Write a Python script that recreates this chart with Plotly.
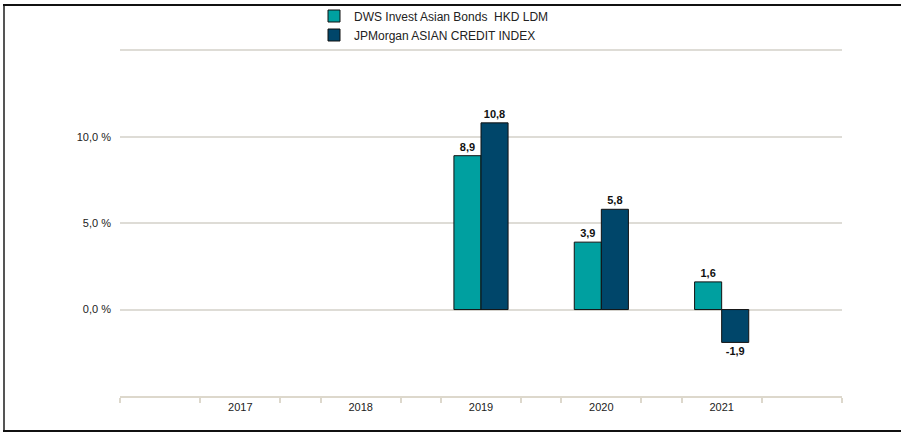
import plotly.graph_objects as go

years = [2017, 2018, 2019, 2020, 2021]
fund_name = "DWS Invest Asian Bonds  HKD LDM"
bench_name = "JPMorgan ASIAN CREDIT INDEX"
fund_vals = [None, None, 8.9, 3.9, 1.6]
bench_vals = [None, None, 10.8, 5.8, -1.9]
y_tickvals = [-5, 0, 5, 10, 15]
y_ticktext = ["", "0,0 %", "5,0 %", "10,0 %", ""]

def fmt(v):
    return "" if v is None else f"{v:.1f}".replace(".", ",")

W, H = 901, 433
L, R, T, B = 120, 59, 48, 37
pw, ph = W - L - R, H - T - B

label_font = dict(family="Liberation Sans, Arial", size=11, color="#111111", weight="bold")

fig = go.Figure()
fig.add_trace(go.Bar(
    x=years, y=fund_vals, name=fund_name,
    marker=dict(color="#00A0A0", line=dict(color="#111111", width=1)),
    text=[fmt(v) for v in fund_vals], textposition="outside",
    textfont=label_font, cliponaxis=False,
))
fig.add_trace(go.Bar(
    x=years, y=bench_vals, name=bench_name,
    marker=dict(color="#00466A", line=dict(color="#111111", width=1)),
    text=[fmt(v) for v in bench_vals], textposition="outside",
    textfont=label_font, cliponaxis=False,
))

minor_vals = [2016, 2022]
for yv in years:
    minor_vals += [yv - 1 / 3, yv + 1 / 3]

def px_x(p):
    return (p - L) / pw

def px_y(p):
    return 1 - (p - T) / ph

fig.update_layout(
    width=W, height=H,
    margin=dict(l=L, r=R, t=T, b=B, autoexpand=False),
    paper_bgcolor="white", plot_bgcolor="white",
    barmode="group", bargap=0.55, bargroupgap=0,
    font=dict(family="Liberation Sans, Arial", size=11, color="#333333"),
    showlegend=True,
    legend=dict(
        xref="container", yref="container",
        x=314 / W, y=1 - 1.5 / H, xanchor="left", yanchor="top",
        font=dict(size=12, color="#222222"), traceorder="normal",
        bgcolor="rgba(0,0,0,0)", itemwidth=30, tracegroupgap=0,
    ),
    xaxis=dict(
        type="linear", range=[2016, 2022],
        tickvals=years, ticktext=[str(y) for y in years],
        ticks="", showgrid=False, zeroline=False,
        showline=True, linecolor="#DDD8CC", linewidth=2,
        minor=dict(tickvals=minor_vals, ticks="outside", ticklen=5,
                   tickcolor="#DDD8CC", tickwidth=1.5, showgrid=False),
        tickfont=dict(size=11, color="#222222"),
    ),
    yaxis=dict(
        range=[-5, 15.13], tickvals=y_tickvals, ticktext=y_ticktext,
        showgrid=True, gridcolor="#DEDCD6", gridwidth=1.5,
        zeroline=False, showline=False, ticks="",
        tickfont=dict(size=11, color="#222222"),
        ticklabelstandoff=8,
    ),
    shapes=[
        dict(type="line", xref="paper", yref="paper",
             x0=px_x(4), x1=px_x(4), y0=px_y(5), y1=px_y(431),
             line=dict(color="#555555", width=2)),
        dict(type="line", xref="paper", yref="paper",
             x0=px_x(3), x1=px_x(901), y0=px_y(5), y1=px_y(5),
             line=dict(color="#111111", width=2)),
        dict(type="line", xref="paper", yref="paper",
             x0=px_x(3), x1=px_x(901), y0=px_y(431), y1=px_y(431),
             line=dict(color="#111111", width=2)),
    ],
)

fig.write_html(
    "out.html",
    config={"displayModeBar": False},
    post_script="document.body.style.margin='0px';document.body.style.padding='0px';",
)
